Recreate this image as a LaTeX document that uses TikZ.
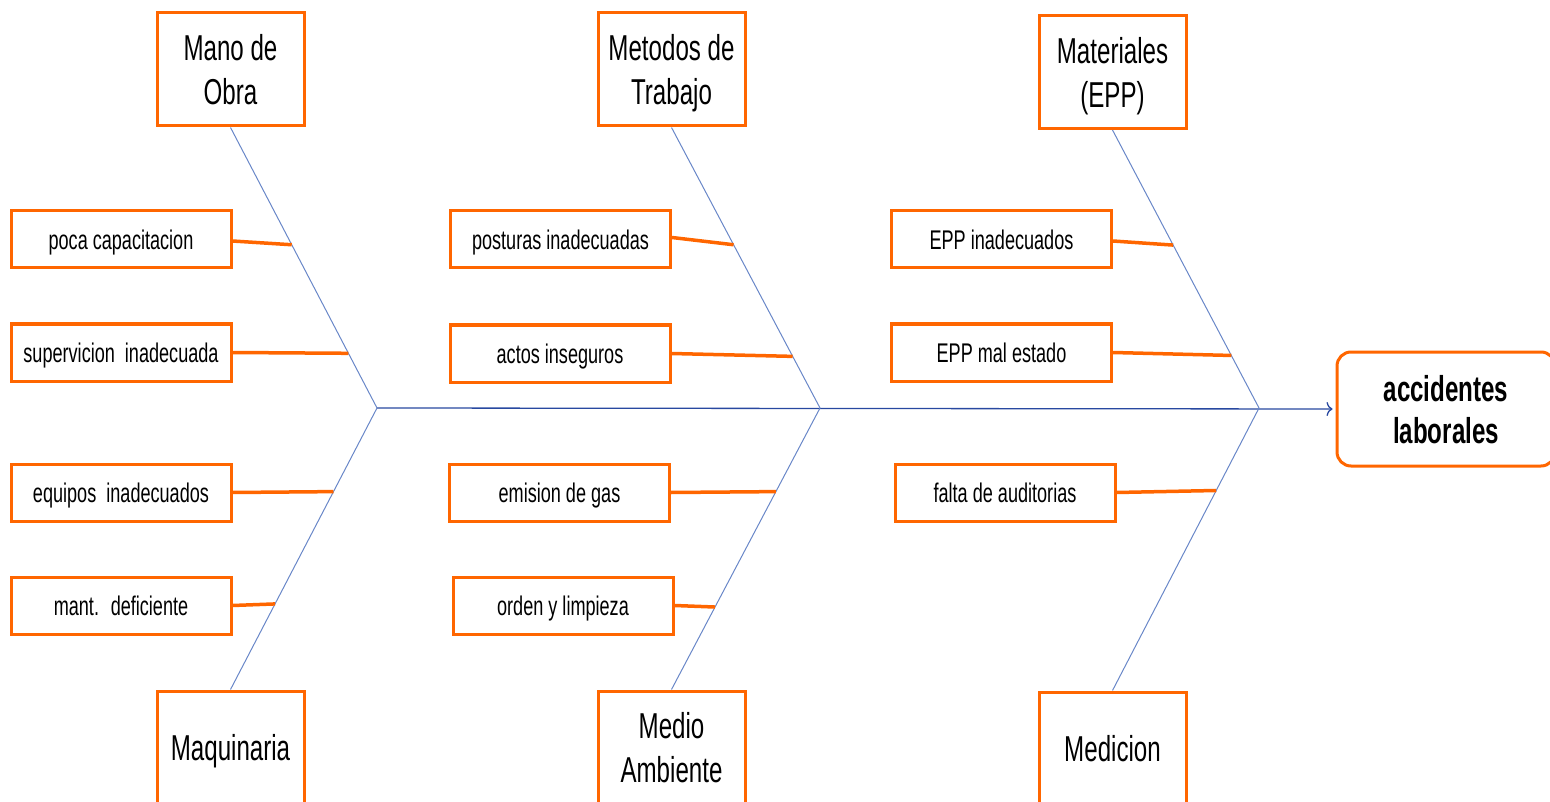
\documentclass[tikz,border=0pt]{standalone}
\usepackage{fontspec}
\setmainfont[FakeStretch=0.67]{Liberation Sans}
\usetikzlibrary{arrows.meta,calc}
\definecolor{orng}{RGB}{255,102,0}
\definecolor{spinec}{RGB}{40,72,160}
\definecolor{bonec}{RGB}{105,135,200}
\begin{document}
\begin{tikzpicture}[x=1pt,y=-1pt,
  cat/.style={draw=orng, line width=3pt, fill=white, minimum width=147pt, minimum height=113pt,
    align=center, inner sep=0pt, text depth=0pt, font=\fontsize{36}{44}\selectfont},
  cause/.style={draw=orng, line width=3pt, fill=white, minimum width=220pt, minimum height=57pt,
    inner sep=0pt, text depth=0pt, font=\fontsize{27}{32}\selectfont},
  effect/.style={draw=orng, line width=3pt, fill=white, rounded corners=14pt, minimum width=218pt,
    minimum height=114pt, align=center, inner sep=0pt, text depth=0pt, font=\bfseries\fontsize{36}{42}\selectfont},
  boneline/.style={draw=bonec, line width=1pt},
  spineline/.style={draw=spinec, line width=1.3pt},
  twig/.style={draw=orng, line width=3.5pt}]
\useasboundingbox (0,0) rectangle (1550,802);
\clip (0,0) rectangle (1550,802);

% category boxes
\node[cat] (mano) at (230.5,69.5) {Mano de\\Obra};
\node[cat] (met) at (671.5,69.5) {Metodos de\\Trabajo};
\node[cat] (mat) at (1112.5,72) {Materiales\\(EPP)};
\node[cat] (maq) at (230.5,747.5) {Maquinaria};
\node[cat] (med) at (671.5,747.5) {Medio\\Ambiente};
\node[cat] (medi) at (1112.5,748.5) {Medicion};

% effect
\node[effect] (acc) at (1446,409) {accidentes\\laborales};

% junctions
\coordinate (j1) at (377,408);
\coordinate (j2) at (820,408);
\coordinate (j3) at (1259,408);

% spine
\draw[spineline,-{To[length=6pt,width=14pt]}] (j1) -- (acc.west) [shorten >=3pt];

% bones
\draw[boneline] (mano.south) -- (j1) -- (maq.north);
\draw[boneline] (met.south) -- (j2) -- (med.north);
\draw[boneline] (mat.south) -- (j3) -- (medi.north);

% cause boxes
\node[cause] (c1) at (121,239.5) {poca capacitacion};
\node[cause] (c2) at (121,352.5) {supervicion \ inadecuada};
\node[cause] (c3) at (121,492.5) {equipos \ inadecuados};
\node[cause] (c4) at (121,605.5) {mant. \ deficiente};
\node[cause] (c5) at (560.5,239.5) {posturas inadecuadas};
\node[cause] (c6) at (560,353.5) {actos inseguros};
\node[cause] (c7) at (559.5,492.5) {emision de gas};
\node[cause] (c8) at (563,605.5) {orden y limpieza};
\node[cause] (c9) at (1001.5,239.5) {EPP inadecuados};
\node[cause] (c10) at (1001.5,352.5) {EPP mal estado};
\node[cause] (c11) at (1005,492.5) {falta de auditorias};

% twig end points on the bones
\coordinate (p1) at ($(mano.south)!0.418!(j1)$);
\coordinate (p2) at ($(mano.south)!0.805!(j1)$);
\coordinate (p3) at ($(j1)!0.297!(maq.north)$);
\coordinate (p4) at ($(j1)!0.696!(maq.north)$);
\coordinate (p5) at ($(met.south)!0.418!(j2)$);
\coordinate (p6) at ($(met.south)!0.816!(j2)$);
\coordinate (p7) at ($(j2)!0.297!(med.north)$);
\coordinate (p8) at ($(j2)!0.707!(med.north)$);
\coordinate (p9) at ($(mat.south)!0.414!(j3)$);
\coordinate (p10) at ($(mat.south)!0.811!(j3)$);
\coordinate (p11) at ($(j3)!0.292!(medi.north)$);

\draw[twig] ([yshift=-1.5pt]c1.east) -- (p1);
\draw[twig] (c2.east) -- (p2);
\draw[twig] (c3.east) -- (p3);
\draw[twig] (c4.east) -- (p4);
\draw[twig] ([yshift=2pt]c5.east) -- (p5);
\draw[twig] (c6.east) -- (p6);
\draw[twig] (c7.east) -- (p7);
\draw[twig] (c8.east) -- (p8);
\draw[twig] ([yshift=-1.5pt]c9.east) -- (p9);
\draw[twig] (c10.east) -- (p10);
\draw[twig] (c11.east) -- (p11);
\end{tikzpicture}
\end{document}
